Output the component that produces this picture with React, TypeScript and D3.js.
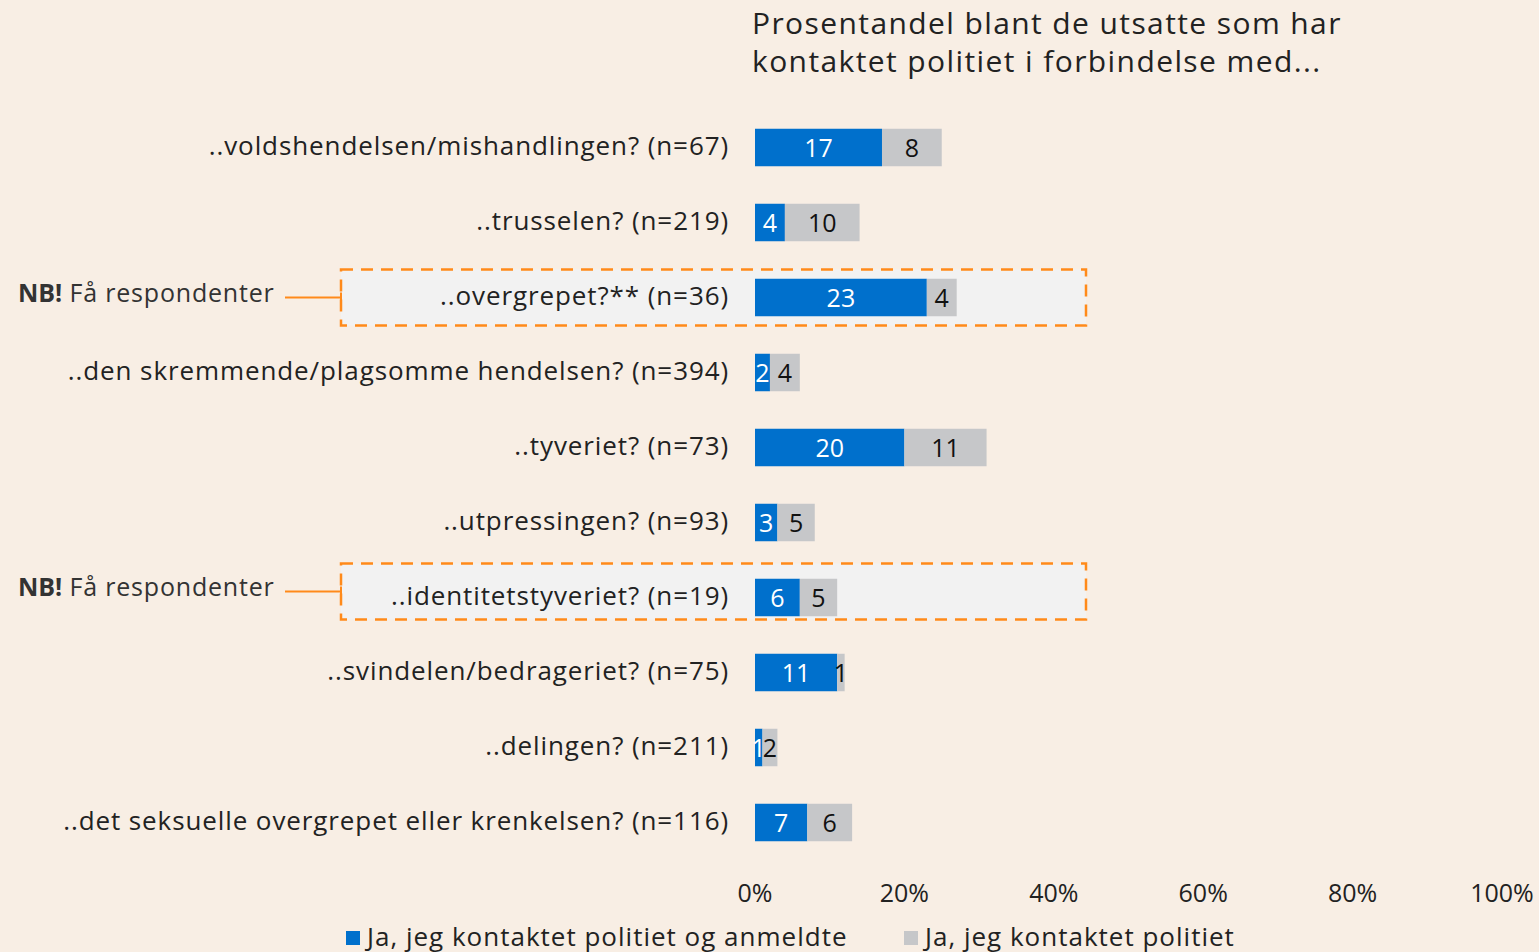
import React from 'react';
import * as d3 from 'd3';

const categories = [
  '..voldshendelsen/mishandlingen? (n=67)',
  '..trusselen? (n=219)',
  '..overgrepet?** (n=36)',
  '..den skremmende/plagsomme hendelsen? (n=394)',
  '..tyveriet? (n=73)',
  '..utpressingen? (n=93)',
  '..identitetstyveriet? (n=19)',
  '..svindelen/bedrageriet? (n=75)',
  '..delingen? (n=211)',
  '..det seksuelle overgrepet eller krenkelsen? (n=116)',
];
const reported = [17, 4, 23, 2, 20, 3, 6, 11, 1, 7];
const contacted = [8, 10, 4, 4, 11, 5, 5, 1, 2, 6];
const flagged = [2, 6]; // rows with few respondents
const flagShift = [0, -6];
const ticks = [0, 20, 40, 60, 80, 100];
const seriesNames = ['Ja, jeg kontaktet politiet og anmeldte', 'Ja, jeg kontaktet politiet'];
const titleLines = ['Prosentandel blant de utsatte som har', 'kontaktet politiet i forbindelse med...'];

const width = 1539;
const height = 952;
const font = '"Open Sans", "DejaVu Sans", sans-serif';
const blue = '#0070CC';
const gray = '#C6C7C9';
const orange = '#FF8A1A';

export default function App() {
  const x = d3.scaleLinear().domain([0, 100]).range([755, 1502]);
  const y = d3.scaleBand<number>()
    .domain(d3.range(categories.length))
    .range([110, 860])
    .paddingInner(0.5)
    .paddingOuter(0.25);
  const bh = y.bandwidth();

  return (
    <svg width={width} height={height} style={{ position: 'absolute', left: 0, top: 0, background: '#F8EEE4' }}
      fontFamily={font}>
      {titleLines.map((t, i) => (
        <text key={t} x={752} y={34 + i * 38} fontSize={30} letterSpacing={1.4} fill="#222">{t}</text>
      ))}

      {flagged.map((i, k) => {
        const cy = y(i)! + bh / 2 + flagShift[k];
        return (
          <g key={'nb' + i}>
            <rect x={341} y={cy - 28} width={745} height={56} fill="#F2F2F2"
              stroke={orange} strokeWidth={2.5} strokeDasharray="12 8" />
            <line x1={285} x2={341} y1={cy} y2={cy} stroke={orange} strokeWidth={2} />
            <line x1={341} x2={341} y1={cy - 5} y2={cy + 5} stroke={orange} strokeWidth={2} />
            <text x={18} y={cy + 4} fontSize={25} letterSpacing={0.8} fill="#333">
              <tspan fontWeight="bold" letterSpacing={0}>NB!</tspan> Få respondenter
            </text>
          </g>
        );
      })}

      {categories.map((c, i) => {
        const yy = y(i)!;
        const cy = yy + bh / 2;
        return (
          <g key={c}>
            <text x={729} y={cy} dy="0.3em" textAnchor="end" fontSize={26} letterSpacing={0.9}
              fill="#222">{c}</text>
            <rect x={x(0)} y={yy} width={x(reported[i]) - x(0)} height={bh} fill={blue} />
            <rect x={x(reported[i])} y={yy} width={x(reported[i] + contacted[i]) - x(reported[i])}
              height={bh} fill={gray} />
            <text x={(x(0) + x(reported[i])) / 2} y={cy} dy="0.38em" textAnchor="middle"
              fontSize={25} fill="#fff">{reported[i]}</text>
            <text x={(x(reported[i]) + x(reported[i] + contacted[i])) / 2} y={cy} dy="0.38em"
              textAnchor="middle" fontSize={25} fill="#111">{contacted[i]}</text>
          </g>
        );
      })}

      {ticks.map(t => (
        <text key={t} x={x(t)} y={902} textAnchor="middle" fontSize={25} fill="#222">{t}%</text>
      ))}

      {seriesNames.map((s, i) => {
        const lx = i === 0 ? 346 : 904;
        return (
          <g key={s}>
            <rect x={lx} y={931} width={14} height={14} fill={i === 0 ? blue : gray} />
            <text x={lx + 21} y={946} fontSize={26} letterSpacing={1} fill="#222">{s}</text>
          </g>
        );
      })}
    </svg>
  );
}
